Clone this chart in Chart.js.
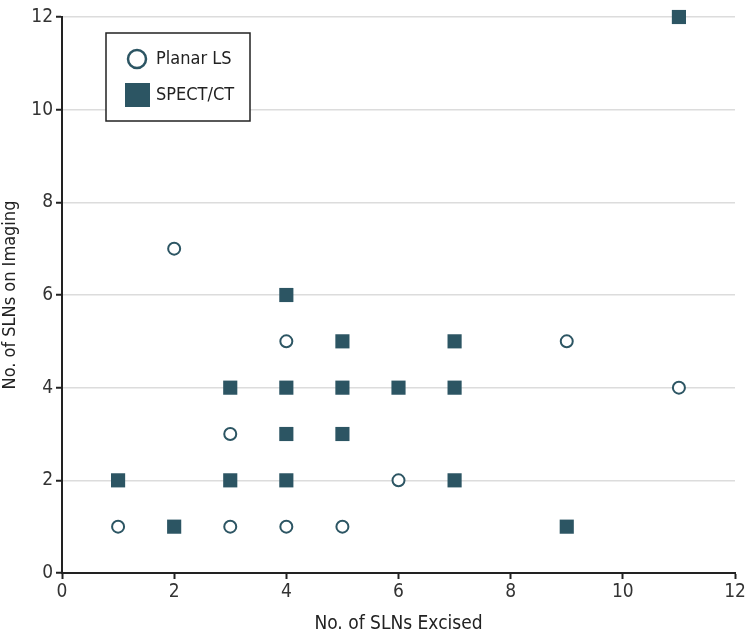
<!DOCTYPE html>
<html>
<head>
<meta charset="utf-8">
<script src="https://cdn.jsdelivr.net/npm/chart.js@4"></script>
<style>
  body { margin: 0; background: #fff; }
</style>
</head>
<body>
<canvas id="chart" width="750" height="635"></canvas>
<script>
// data: [SLNs excised, SLNs on imaging]
const planarX = [1, 2, 3, 3, 4, 4, 5, 6, 9, 11];
const planarY = [1, 7, 1, 3, 1, 5, 1, 2, 5, 4];
const spectX = [1, 2, 3, 3, 4, 4, 4, 4, 5, 5, 5, 6, 7, 7, 7, 9, 11];
const spectY = [2, 1, 4, 2, 6, 4, 3, 2, 5, 4, 3, 4, 5, 4, 2, 1, 12];
const seriesNames = ["Planar LS", "SPECT/CT"];
const tickValues = [0, 2, 4, 6, 8, 10, 12];

const teal = "#2c5563";
const axisColor = "#222";
const fontFam = "'DejaVu Sans', sans-serif";
// "condensed" slips into the font shorthand as font-stretch
const txtFont = { family: fontFam, size: 19, weight: "condensed" };

const toPoints = (xs, ys) => xs.map((x, i) => ({ x: x, y: ys[i] }));

// legend box drawn inside the plot, like the original
const boxLegend = {
  id: "boxLegend",
  afterDraw(chart) {
    const ctx = chart.ctx;
    const x0 = 106, y0 = 33, w = 144, h = 88;
    ctx.save();
    ctx.fillStyle = "#fff";
    ctx.fillRect(x0, y0, w, h);
    ctx.strokeStyle = axisColor;
    ctx.lineWidth = 1.5;
    ctx.strokeRect(x0, y0, w, h);

    // circle icon
    ctx.beginPath();
    ctx.arc(137, 59, 9, 0, Math.PI * 2);
    ctx.lineWidth = 2.5;
    ctx.strokeStyle = teal;
    ctx.fillStyle = "#fff";
    ctx.fill();
    ctx.stroke();
    // square icon
    ctx.fillStyle = teal;
    ctx.fillRect(125, 83, 25, 24);

    ctx.fillStyle = "#222";
    ctx.font = "normal condensed 18px " + fontFam;
    ctx.textBaseline = "middle";
    ctx.fillText(seriesNames[0], 156, 59);
    ctx.fillText(seriesNames[1], 156, 95);
    ctx.restore();
  }
};

new Chart(document.getElementById("chart"), {
  type: "scatter",
  data: {
    datasets: [
      {
        label: seriesNames[0],
        data: toPoints(planarX, planarY),
        pointStyle: "circle",
        pointRadius: 6,
        pointBorderWidth: 2,
        borderColor: teal,
        backgroundColor: "#fff",
        clip: false
      },
      {
        label: seriesNames[1],
        data: toPoints(spectX, spectY),
        pointStyle: "rect",
        pointRadius: 10,
        pointBorderWidth: 0,
        borderColor: teal,
        backgroundColor: teal,
        clip: false
      }
    ]
  },
  options: {
    responsive: false,
    animation: false,
    layout: { padding: { top: 17, right: 15, left: 0, bottom: 0 } },
    plugins: {
      legend: { display: false },
      tooltip: { enabled: false }
    },
    scales: {
      x: {
        type: "linear",
        min: 0,
        max: 12,
        afterBuildTicks: axis => { axis.ticks = tickValues.map(v => ({ value: v })); },
        afterFit: axis => { axis.height = 62; },
        border: { color: axisColor, width: 2 },
        grid: { drawOnChartArea: false, tickLength: 6, tickColor: axisColor, tickWidth: 2 },
        ticks: { color: "#333", font: txtFont, padding: 2 },
        title: {
          display: true,
          text: "No. of SLNs Excised",
          color: "#222",
          font: txtFont,
          padding: { top: 2, bottom: 0 }
        }
      },
      y: {
        type: "linear",
        min: 0,
        max: 12,
        afterBuildTicks: axis => { axis.ticks = tickValues.map(v => ({ value: v })); },
        afterFit: axis => { axis.width = 62; },
        border: { color: axisColor, width: 2 },
        grid: { color: "#dcdcdc", lineWidth: 1.5, tickLength: 6, tickColor: axisColor, tickWidth: 2 },
        ticks: { color: "#333", font: txtFont, padding: 3 },
        title: {
          display: true,
          text: "No. of SLNs on Imaging",
          color: "#222",
          font: { family: fontFam, size: 18, weight: "condensed" },
          padding: { top: 0, bottom: 4 }
        }
      }
    }
  },
  plugins: [boxLegend]
});
</script>
</body>
</html>
